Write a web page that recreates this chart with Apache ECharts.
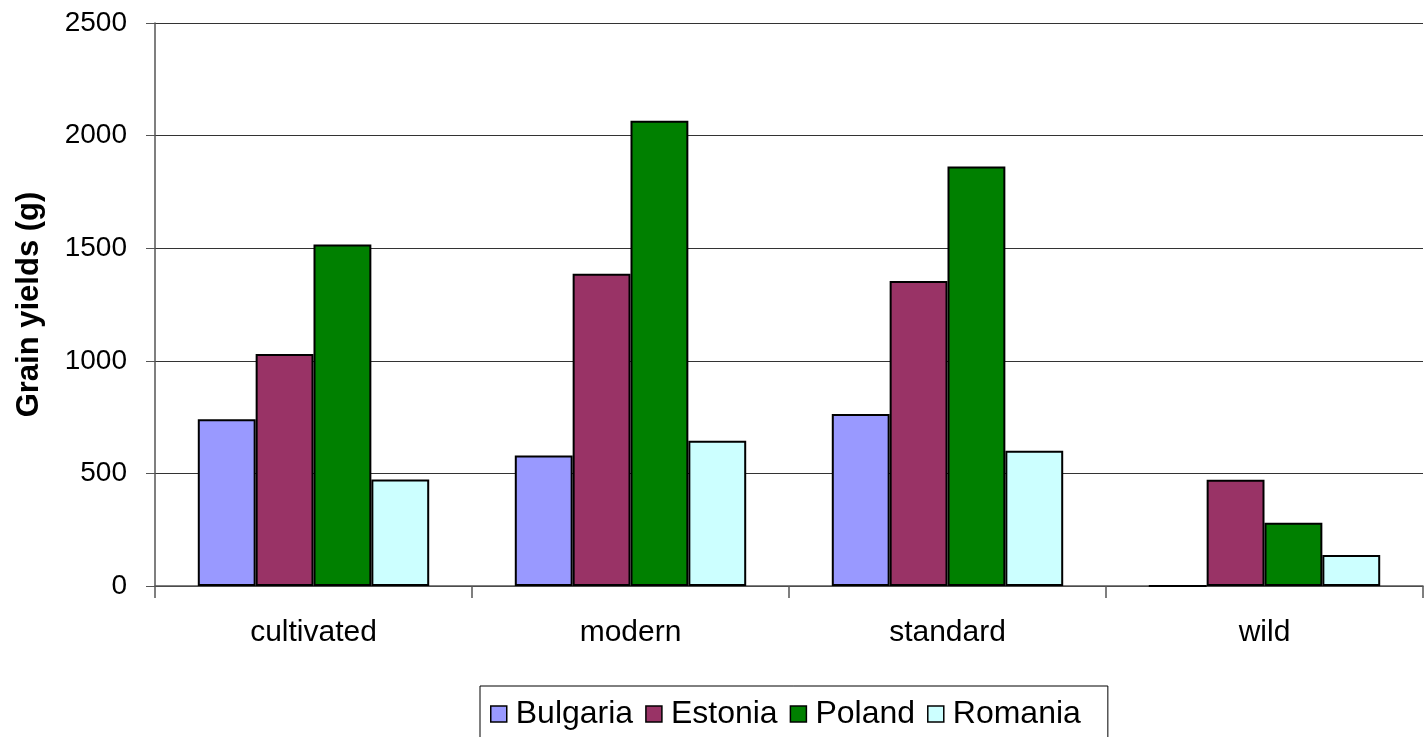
<!DOCTYPE html>
<html>
<head>
<meta charset="utf-8">
<script src="https://cdn.jsdelivr.net/npm/echarts@6/dist/echarts.min.js"></script>
<style>html,body{margin:0;padding:0;background:#fff}#c{width:1424px;height:737px}</style>
</head>
<body>
<div id="c"></div>
<script>
const categories = ['cultivated', 'modern', 'standard', 'wild'];
const bulgaria = [741, 579, 764, 0];
const estonia = [1030, 1387, 1354, 472];
const poland = [1516, 2066, 1863, 281];
const romania = [473, 645, 601, 138];
const yTicks = [0, 500, 1000, 1500, 2000, 2500];

const colors = ['#9999FF', '#993366', '#008000', '#CCFFFF'];
const names = ['Bulgaria', 'Estonia', 'Poland', 'Romania'];
const dataSets = [bulgaria, estonia, poland, romania];
const font = 'Liberation Sans, Arial, sans-serif';

const chart = echarts.init(document.getElementById('c'));
chart.setOption({
  animation: false,
  backgroundColor: '#fff',
  grid: { left: 155, right: 1, top: 23, bottom: 151, containLabel: false },
  legend: {
    top: 686,
    left: 480,
    icon: 'rect',
    itemWidth: 16, itemHeight: 16, itemGap: 12,
    borderColor: '#000', borderWidth: 1,
    padding: [12, 27, 30, 10],
    textStyle: { fontFamily: font, fontSize: 32, color: '#000', padding: [0, 0, 0, 4] },
    data: names.map((n, i) => ({ name: n, itemStyle: { color: colors[i], borderColor: '#000', borderWidth: 1.5 } }))
  },
  xAxis: {
    type: 'category',
    data: categories,
    axisLine: { lineStyle: { color: '#555', width: 1.5 } },
    axisTick: { show: true, length: 12, lineStyle: { color: '#555', width: 1.5 } },
    axisLabel: { fontFamily: font, fontSize: 30, color: '#000', margin: 32 }
  },
  yAxis: {
    type: 'value',
    min: 0, max: 2500, interval: 500,
    name: 'Grain yields (g)',
    nameLocation: 'middle',
    nameGap: 110,
    nameTextStyle: { fontFamily: font, fontSize: 31, fontWeight: 'bold', color: '#000' },
    axisLine: { show: true, lineStyle: { color: '#555', width: 1.5 } },
    axisTick: { show: true, length: 9, lineStyle: { color: '#555', width: 1 } },
    axisLabel: { fontFamily: font, fontSize: 28, color: '#000', margin: 28,
      formatter: v => yTicks.includes(v) ? String(v) : '' },
    splitLine: { show: true, lineStyle: { color: '#333', width: 1 } }
  },
  series: dataSets.map((d, i) => ({
    name: names[i],
    type: 'bar',
    data: d,
    barGap: '0%',
    barCategoryGap: '27%',
    itemStyle: { color: colors[i], borderColor: '#000', borderWidth: 2 }
  }))
});
</script>
</body>
</html>
